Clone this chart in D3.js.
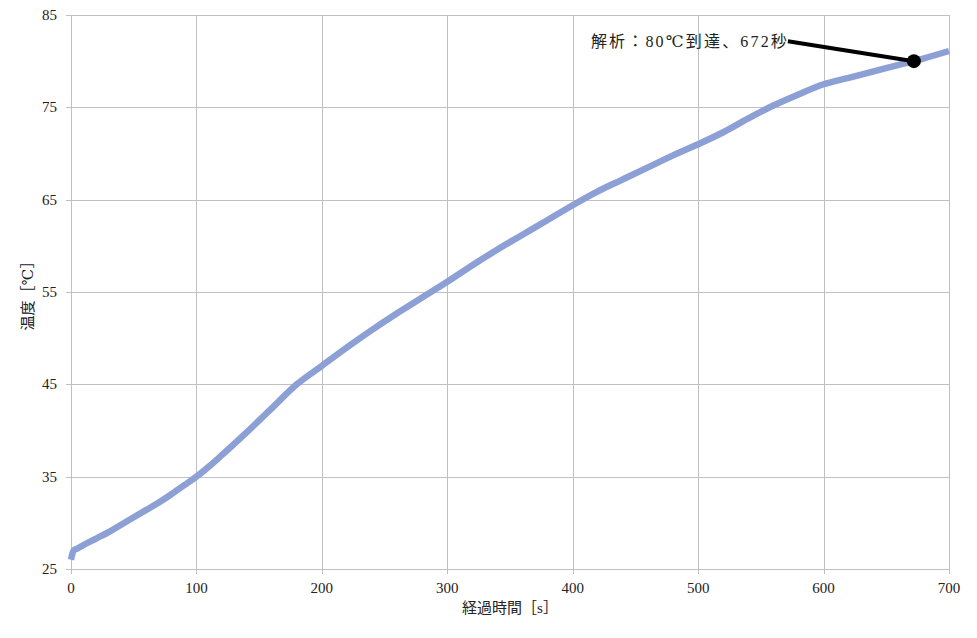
<!DOCTYPE html>
<html>
<head>
<meta charset="utf-8">
<script src="https://cdn.jsdelivr.net/npm/d3@7"></script>
<style>
  body { margin: 0; background: #fff; }
</style>
</head>
<body>
<svg id="chart" width="977" height="638"></svg>
<script>
const timeSec = [0, 1, 2, 5, 10, 20, 30, 40, 50, 60, 70, 80, 90, 100, 110, 120, 140, 160, 180, 200, 220, 240, 260, 280, 300, 320, 340, 360, 380, 400, 420, 440, 460, 480, 500, 520, 540, 560, 580, 600, 620, 640, 660, 672, 680, 700];
const tempC   = [26.0, 26.6, 27.0, 27.2, 27.6, 28.3, 29.0, 29.8, 30.6, 31.4, 32.2, 33.1, 34.05, 35.0, 36.1, 37.3, 39.8, 42.4, 45.0, 47.0, 49.0, 50.9, 52.7, 54.4, 56.1, 57.9, 59.6, 61.2, 62.8, 64.4, 65.9, 67.2, 68.5, 69.8, 71.0, 72.3, 73.8, 75.2, 76.4, 77.5, 78.2, 78.9, 79.6, 80.0, 80.3, 81.1];
const xTicks = [0, 100, 200, 300, 400, 500, 600, 700];
const yTicks = [25, 35, 45, 55, 65, 75, 85];
const xTitle = "経過時間［s］";
const yTitle = "温度［℃］";
const annoText = "解析：80℃到達、672秒";
const annoPoint = [672, 80];

const FONT = "'Liberation Serif', 'Times New Roman', 'DejaVu Serif', 'Noto Sans CJK JP', serif";

const svg = d3.select("#chart");
const L = 71, R = 949, T = 15, B = 569;
const x = d3.scaleLinear().domain([0, 700]).range([L, R]);
const y = d3.scaleLinear().domain([25, 85]).range([B, T]);

const gridColor = "#c0c0c0";

svg.append("g").selectAll("line").data(xTicks).join("line")
  .attr("x1", d => Math.round(x(d)) + 0.5).attr("x2", d => Math.round(x(d)) + 0.5)
  .attr("y1", T).attr("y2", B + 5)
  .attr("stroke", gridColor).attr("stroke-width", 1);
svg.append("g").selectAll("line").data(yTicks).join("line")
  .attr("x1", L - 5).attr("x2", R)
  .attr("y1", d => Math.round(y(d)) + 0.5).attr("y2", d => Math.round(y(d)) + 0.5)
  .attr("stroke", gridColor).attr("stroke-width", 1);

svg.append("g").selectAll("text").data(xTicks).join("text")
  .attr("x", d => x(d)).attr("y", B + 24)
  .attr("text-anchor", "middle").attr("font-size", 15)
  .attr("font-family", FONT).attr("fill", "#222")
  .text(d => d);
svg.append("g").selectAll("text").data(yTicks).join("text")
  .attr("x", L - 14).attr("y", d => y(d) + 5)
  .attr("text-anchor", "end").attr("font-size", 15)
  .attr("font-family", FONT).attr("fill", "#222")
  .text(d => d);

svg.append("text").attr("x", (L + R) / 2).attr("y", 613)
  .attr("text-anchor", "middle").attr("font-size", 15)
  .attr("font-family", FONT).attr("fill", "#222").text(xTitle);
svg.append("text")
  .attr("transform", `translate(33,${(T + B) / 2}) rotate(-90)`)
  .attr("text-anchor", "middle").attr("font-size", 15)
  .attr("font-family", FONT).attr("fill", "#222").text(yTitle);

const pts = timeSec.map((t, i) => [t, tempC[i]]);
svg.append("path").datum(pts)
  .attr("fill", "none").attr("stroke", "#8ca0d6").attr("stroke-width", 6.5)
  .attr("stroke-linejoin", "round")
  .attr("d", d3.line().curve(d3.curveMonotoneX).x(d => x(d[0])).y(d => y(d[1])));

const px = x(annoPoint[0]), py = y(annoPoint[1]);
const tx = px - 126, ty = py - 20;
svg.append("line").attr("x1", tx).attr("y1", ty).attr("x2", px).attr("y2", py)
  .attr("stroke", "#000").attr("stroke-width", 4);
svg.append("circle").attr("cx", px).attr("cy", py).attr("r", 7).attr("fill", "#000");
svg.append("text").attr("x", tx - 1).attr("y", ty + 6)
  .attr("text-anchor", "end").attr("font-size", 16)
  .attr("font-family", FONT).attr("fill", "#222")
  .attr("textLength", 196).attr("lengthAdjust", "spacing")
  .text(annoText);
</script>
</body>
</html>
